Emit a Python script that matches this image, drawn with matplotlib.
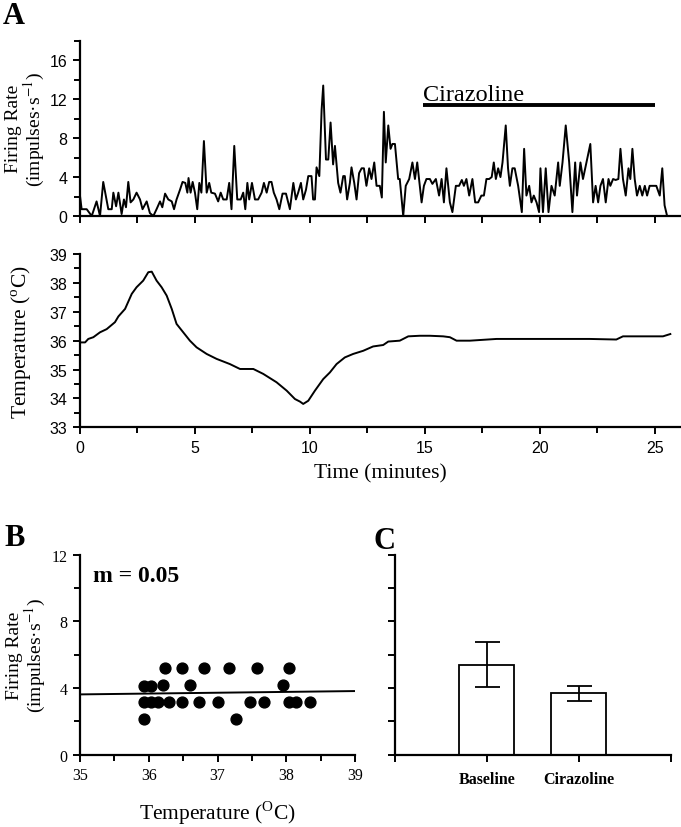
import matplotlib
matplotlib.use('Agg')
import matplotlib.pyplot as plt
from matplotlib.ticker import MultipleLocator

plt.rcParams['font.family'] = 'Liberation Serif'
plt.rcParams['mathtext.fontset'] = 'stix'

# panel A, firing rate trace (minutes, impulses/s)
rate_t = [0.00, 0.07, 0.29, 0.51, 0.72, 0.87, 1.01, 1.23, 1.38, 1.45,
          1.57, 1.67, 1.81, 1.91, 2.00, 2.10, 2.20, 2.32, 2.46, 2.61,
          2.72, 2.90, 3.04, 3.19, 3.33, 3.48, 3.58, 3.70, 3.84, 3.99,
          4.09, 4.20, 4.35, 4.46, 4.58, 4.67, 4.72, 4.81, 4.90, 5.00,
          5.10, 5.19, 5.28, 5.39, 5.51, 5.62, 5.71, 5.87, 6.01, 6.12,
          6.23, 6.38, 6.49, 6.59, 6.71, 6.84, 6.99, 7.10, 7.19, 7.28,
          7.36, 7.48, 7.61, 7.75, 7.90, 8.00, 8.12, 8.23, 8.33, 8.43,
          8.55, 8.67, 8.81, 8.96, 9.13, 9.28, 9.39, 9.49, 9.61, 9.71,
          9.83, 9.93, 10.07, 10.14, 10.22, 10.29, 10.41, 10.51, 10.58, 10.70,
          10.80, 10.90, 11.01, 11.09, 11.23, 11.33, 11.45, 11.52, 11.62, 11.74,
          11.81, 11.93, 12.03, 12.14,
          12.25, 12.35, 12.46, 12.58, 12.68, 12.80, 12.90, 13.04, 13.13, 13.22,
          13.30, 13.41, 13.51, 13.59, 13.70, 13.84, 13.91, 14.06, 14.17, 14.32,
          14.46, 14.57, 14.67, 14.75, 14.86, 14.96, 15.07, 15.22, 15.33, 15.48,
          15.62, 15.73, 15.83, 15.94, 16.09, 16.20, 16.35, 16.49, 16.61, 16.70,
          16.81, 16.93, 17.07, 17.19, 17.32, 17.46, 17.57, 17.68, 17.80, 17.91,
          18.00, 18.09, 18.19, 18.29, 18.38, 18.52, 18.62, 18.70, 18.81, 18.91,
          19.06, 19.22, 19.32, 19.42, 19.54, 19.64, 19.74, 19.86, 19.97, 20.03,
          20.14, 20.26, 20.38, 20.51, 20.65, 20.80, 20.87, 20.99, 21.13, 21.28,
          21.42, 21.54, 21.62, 21.77, 21.88, 22.03, 22.20, 22.32, 22.43, 22.54,
          22.64, 22.75, 22.87, 22.99, 23.07, 23.19, 23.30, 23.42, 23.51, 23.62,
          23.74, 23.86, 23.94, 24.03, 24.13, 24.23, 24.35, 24.46, 24.57, 24.67,
          24.78, 24.93, 25.07, 25.22, 25.33, 25.43, 25.54, 25.73]
rate_v = [2.05, 0.7, 0.7, 0, 1.5, 0, 3.5, 0.7, 0.7, 2.4,
          1.0, 2.4, 0.2, 1.7, 0.9, 3.5, 1.4, 1.7, 2.4, 1.7,
          0.7, 1.5, 0.3, 0, 0.7, 1.5, 0.9, 2.3, 1.7, 1.5,
          0.7, 1.7, 2.7, 3.5, 3.4, 2.4, 3.9, 2.4, 3.5, 2.4,
          0.7, 3.4, 2.4, 7.7, 2.4, 3.4, 2.4, 2.3, 1.5, 2.4,
          1.7, 1.7, 3.4, 0.7, 7.2, 1.7, 1.7, 2.4, 0.7, 3.4,
          1.7, 3.4, 1.7, 1.7, 2.4, 3.4, 2.4, 3.5, 3.5, 2.4,
          1.7, 0.7, 2.3, 2.3, 0.7, 3.4, 1.7, 2.4, 3.4, 1.7,
          2.7, 4.1, 4.1, 1.7, 1.7, 5.0, 4.1, 10.9, 13.4, 5.8,
          5.8, 9.6, 5.3, 7.2, 3.4, 2.4, 4.1, 4.1, 1.7, 3.4,
          5.0, 3.4, 1.7, 4.4,
          4.9, 4.9, 3.1, 4.9, 3.8, 5.5, 3.1, 3.1, 1.9, 10.7,
          5.5, 9.3, 6.9, 7.4, 7.4, 3.8, 3.8, 0, 3.1, 3.8,
          5.5, 3.8, 5.5, 3.8, 1.4, 3.1, 3.8, 3.8, 3.3, 3.8,
          2.1, 3.8, 1.4, 4.9, 1.4, 0.4, 3.1, 3.1, 3.7, 3.1,
          3.8, 2.1, 3.8, 1.4, 1.4, 2.1, 2.1, 3.8, 3.8, 4.0,
          5.5, 3.8, 4.9, 4.0, 5.5, 9.3, 4.9, 3.1, 4.9, 4.9,
          3.1, 0.4, 6.9, 2.1, 3.1, 1.4, 2.1, 1.4, 0.4, 4.9,
          0.4, 4.9, 0.4, 3.1, 2.1, 5.5, 3.1, 5.5, 9.3, 5.5,
          0.4, 5.5, 2.1, 5.5, 3.8, 5.5, 7.4, 1.4, 3.1, 1.4,
          3.1, 3.8, 1.4, 3.8, 3.1, 3.8, 3.7, 3.8, 6.9, 3.8,
          2.1, 4.9, 3.8, 6.9, 3.8, 2.1, 3.1, 2.1, 3.1, 2.1,
          3.1, 3.1, 3.1, 2.1, 4.9, 1.1, 0, 0]

# drug application period
drug_label = 'Cirazoline'
drug_start = 14.9
drug_end = 25.0
drug_level = 11.4

# panel A, temperature trace (minutes, deg C)
temp_t = [0.00, 0.22, 0.36, 0.58, 0.87, 1.16, 1.52, 1.67, 1.96, 2.25,
          2.46, 2.75, 2.97, 3.12, 3.33, 3.55, 3.77, 3.99, 4.20, 4.49,
          4.78, 5.07, 5.51, 5.94, 6.52, 6.96, 7.54, 7.97, 8.55, 8.99,
          9.35, 9.57, 9.71, 9.93, 10.22, 10.58, 10.87, 11.16, 11.52, 11.88,
          12.32, 12.75, 13.19, 13.41, 13.91, 14.28, 14.78, 15.22, 15.80, 16.09,
          16.38, 16.96, 18.12, 19.57, 21.01, 22.17, 23.33, 23.62, 23.91, 24.64,
          25.36, 25.68]
temp_v = [35.94, 35.94, 36.06, 36.12, 36.29, 36.40, 36.64, 36.84, 37.10, 37.62,
          37.85, 38.08, 38.37, 38.39, 38.08, 37.85, 37.56, 37.10, 36.58, 36.29,
          36.00, 35.77, 35.54, 35.37, 35.19, 35.02, 35.02, 34.85, 34.56, 34.27,
          33.98, 33.89, 33.81, 33.92, 34.27, 34.67, 34.90, 35.19, 35.42, 35.54,
          35.65, 35.80, 35.85, 35.97, 36.00, 36.15, 36.17, 36.17, 36.15, 36.12,
          36.00, 36.00, 36.06, 36.06, 36.06, 36.06, 36.04, 36.15, 36.15, 36.15,
          36.15, 36.23]

# panel B, rate vs temperature
sc_temp = [35.93, 35.93, 35.93, 36.03, 36.03, 36.13, 36.20, 36.23, 36.30, 36.49,
           36.49, 36.60, 36.73, 36.80, 37.00, 37.17, 37.27, 37.47, 37.57, 37.67,
           37.95, 38.04, 38.04, 38.14, 38.35]
sc_rate = [4.14, 3.14, 2.14, 4.14, 3.14, 3.14, 4.2, 5.18, 3.14, 5.18,
           3.14, 4.2, 3.14, 5.2, 3.14, 5.18, 2.14, 3.14, 5.18, 3.14,
           4.2, 5.18, 3.14, 3.14, 3.14]
fit_slope = 0.05
fit_at_35 = 3.62
fit_range = [35, 39]

# panel C, means +- error
bar_names = ['Baseline', 'Cirazoline']
bar_means = [5.4, 3.68]
bar_err = [1.35, 0.44]

fig = plt.figure(figsize=(6.81, 8.28), dpi=100)
axA1 = fig.add_axes([0.1175, 0.7379, 0.881, 0.2117])
axA2 = fig.add_axes([0.1175, 0.4827, 0.881, 0.2093])
axB = fig.add_axes([0.1175, 0.0873, 0.4038, 0.2415])
axC = fig.add_axes([0.58, 0.0873, 0.4048, 0.2415])

for ax in [axA1, axA2, axB, axC]:
    ax.spines['top'].set_visible(False)
    ax.spines['right'].set_visible(False)
    ax.spines['left'].set_linewidth(1.6)
    ax.spines['bottom'].set_linewidth(1.6)
    ax.tick_params(which='both', direction='out', width=1.4, pad=4)
    ax.tick_params(which='major', length=5)
    ax.tick_params(which='minor', length=4)

sans = 'Liberation Sans'

# A top: firing rate
axA1.plot(rate_t, rate_v, color='k', lw=1.4)
axA1.plot([drug_start, drug_end], [drug_level, drug_level], color='k', lw=2.8,
          solid_capstyle='butt')
axA1.text(drug_start, 11.95, drug_label, fontsize=17.5, ha='left', va='baseline')
axA1.set_xlim(0, 26.1)
axA1.set_ylim(0, 18)
axA1.xaxis.set_major_locator(MultipleLocator(2.5))
axA1.set_xticklabels([])
axA1.yaxis.set_major_locator(MultipleLocator(4))
axA1.yaxis.set_minor_locator(MultipleLocator(2))
for lab in axA1.get_yticklabels():
    lab.set_family(sans)
    lab.set_fontsize(11.5)
axA1.set_ylabel('Firing Rate\n(impulses\u00b7s$^{-1}$)', fontsize=14, linespacing=1.0)
axA1.yaxis.set_label_coords(-0.055, 0.5)

# A bottom: temperature
axA2.plot(temp_t, temp_v, color='k', lw=1.4)
axA2.set_xlim(0, 26.1)
axA2.set_ylim(33, 39)
axA2.xaxis.set_major_locator(MultipleLocator(5))
axA2.xaxis.set_minor_locator(MultipleLocator(2.5))
axA2.yaxis.set_major_locator(MultipleLocator(1))
axA2.yaxis.set_minor_locator(MultipleLocator(0.5))
for lab in axA2.get_xticklabels() + axA2.get_yticklabels():
    lab.set_family(sans)
    lab.set_fontsize(11.5)
axA2.set_ylabel('Temperature ($^{\\mathregular{o}}$C)', fontsize=15.5)
axA2.yaxis.set_label_coords(-0.078, 0.5)
axA2.set_xlabel('Time (minutes)', fontsize=15.5, labelpad=6)

# B: scatter with fit
axB.plot(sc_temp, sc_rate, 'o', color='k', markersize=7.8)
axB.plot(fit_range, [fit_at_35 + fit_slope * (x - 35) for x in fit_range],
         color='k', lw=1.4)
axB.text(35.19, 10.4, 'm = 0.05', fontsize=17, fontweight='bold', va='baseline')
axB.set_xlim(35, 39)
axB.set_ylim(0, 12)
axB.xaxis.set_major_locator(MultipleLocator(1))
axB.xaxis.set_minor_locator(MultipleLocator(0.5))
axB.yaxis.set_major_locator(MultipleLocator(4))
axB.yaxis.set_minor_locator(MultipleLocator(2))
axB.tick_params(labelsize=11.5)
axB.set_ylabel('Firing Rate\n(impulses\u00b7s$^{-1}$)', fontsize=14, linespacing=1.0)
axB.yaxis.set_label_coords(-0.115, 0.5)
axB.set_xlabel('Temperature ($^{\\mathregular{O}}$C)', fontsize=15.5, labelpad=11)

# C: bars
axC.bar([1, 2], bar_means, width=0.6, color='white', edgecolor='k', lw=1.3,
        yerr=bar_err, capsize=9, error_kw={'elinewidth': 1.3, 'capthick': 1.3})
axC.set_xlim(0, 3)
axC.set_ylim(0, 12)
axC.set_xticks([0, 1, 2, 3])
axC.set_xticklabels([''] + bar_names + [''], fontsize=11.5, fontweight='bold')
axC.tick_params(axis='x', pad=7)
axC.yaxis.set_major_locator(MultipleLocator(2))
axC.set_yticklabels([])

fig.text(0.004, 0.998, 'A', fontsize=22, fontweight='bold', va='top')
fig.text(0.007, 0.367, 'B', fontsize=22, fontweight='bold', va='top')
fig.text(0.548, 0.363, 'C', fontsize=22, fontweight='bold', va='top')

plt.savefig('out.png', dpi=100)
